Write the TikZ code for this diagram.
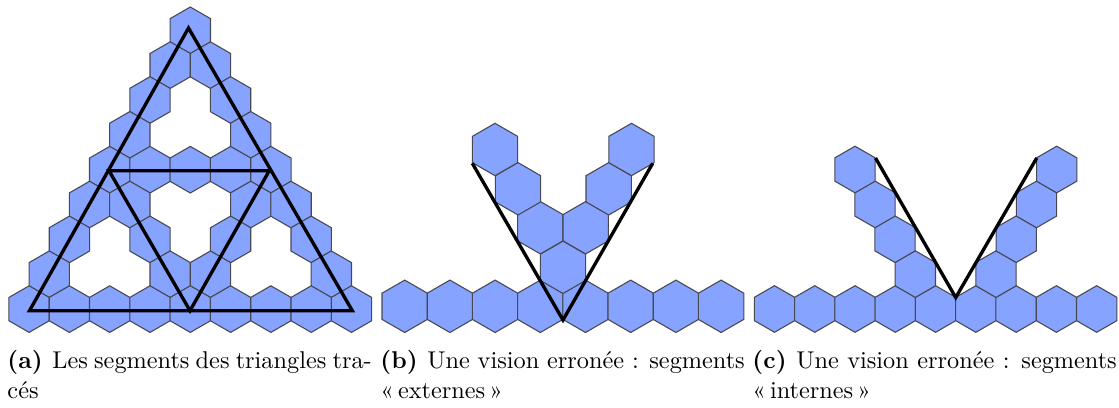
\documentclass[tikz,border=0pt]{standalone}
\usepackage{tikz}
\usetikzlibrary{calc, positioning}
\usepackage{xcolor}
\definecolor{hexBlue}{RGB}{134, 163, 255}
\definecolor{hexEdge}{RGB}{72, 72, 80}
\tikzset{
  cell/.style={draw=hexEdge, fill=hexBlue, line width=0.45pt, line join=miter},
  segment/.style={draw=black, line width=1.4pt, line join=miter},
  legend/.style={anchor=base west, inner sep=0pt, align=left, font=\fontsize{10.2}{12.6}\selectfont}
}
\newcommand{\hexcell}[3]{
  \draw[cell] ({#1},{#2}) +(90:#3) -- +(30:#3) -- +(-30:#3) -- +(-90:#3) -- +(-150:#3) -- +(150:#3) -- cycle;
}
\newcommand{\legendline}[1]{\makebox[153pt][s]{#1}}

\begin{document}
\begin{tikzpicture}[x=0.42pt, y=-0.42pt]
  \useasboundingbox (0,0) rectangle (1119,407);

  % triangle de gauche
  \foreach \r/\cells in {0/{0}, 1/{0,1}, 2/{0,2}, 3/{0,3}, 4/{0,1,2,3,4}, 5/{0,1,4,5}, 6/{0,2,4,6}, 7/{0,3,4,7}, 8/{0,1,2,3,4,5,6,7,8}} {
    \foreach \c in \cells {
      \hexcell{190.3+(\c-\r/2)*40.3}{30.3+\r*34.85}{23.3}
    }
  }
  \coordinate (top) at (188.5,28);
  \coordinate (left) at (29.5,310.7);
  \coordinate (right) at (352.3,310.7);
  \coordinate (midL) at (109,170.7);
  \coordinate (midR) at (269.3,170.7);
  \coordinate (midB) at (190,310.7);
  \draw[segment] (top) -- (left) -- (right) -- cycle;
  \draw[segment] (midL) -- (midR) -- (midB) -- cycle;
  \node[legend] (capA) at (7,398) {\legendline{\textbf{(a)}\hspace{0.4em}Les segments des triangles tra-}\\cés};

  % segments externes
  \foreach \c in {0,...,7} {
    \hexcell{404.7+\c*45.2}{306.3}{26.2}
  }
  \foreach \x/\y in {563/267.3, 540.3/227.7, 585.7/227.7, 518/188.8, 608.7/188.8, 495/149.5, 631.5/149.5} {
    \hexcell{\x}{\y}{26.2}
  }
  \coordinate (extL) at (472.3,163.3);
  \coordinate (extB) at (563,320);
  \coordinate (extR) at (652.7,163.3);
  \draw[segment] (extL) -- (extB) -- (extR);
  \node[legend] (capB) at (380,398) {\legendline{\textbf{(b)}\hspace{0.4em}Une vision erronée : segments}\\«\,externes\,»};

  % segments internes
  \foreach \c in {0,...,8} {
    \hexcell{774.5+\c*40.27}{309}{23.3}
  }
  \foreach \x/\y in {915.3/274.1, 895/239.2, 875/204.4, 855/169.5, 996/274.1, 1016.2/239.2, 1036.5/204.4, 1056.7/169.5} {
    \hexcell{\x}{\y}{23.3}
  }
  \coordinate (intL) at (875.5,158);
  \coordinate (intB) at (955.7,297.5);
  \coordinate (intR) at (1036.7,158);
  \draw[segment] (intL) -- (intB) -- (intR);
  \node[legend] (capC) at (752,398) {\legendline{\textbf{(c)}\hspace{0.4em}Une vision erronée : segments}\\«\,internes\,»};
\end{tikzpicture}
\end{document}
